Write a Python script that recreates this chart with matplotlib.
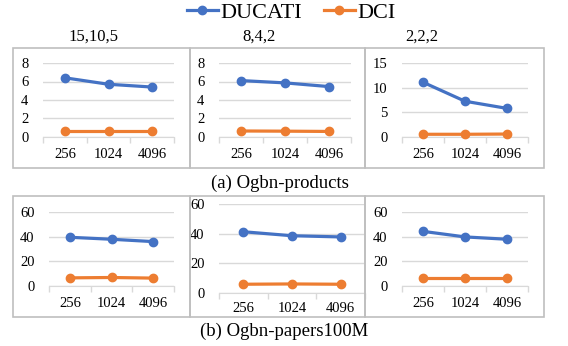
import matplotlib
matplotlib.use('Agg')
import matplotlib.pyplot as plt
from matplotlib.patches import Rectangle
from matplotlib.lines import Line2D

plt.rcParams['font.family'] = ['Liberation Serif', 'DejaVu Serif']

cats = ['256', '1024', '4096']
titles = ['15,10,5', '8,4,2', '2,2,2']

# (a) Ogbn-products
prod_ducati = [[6.4, 5.7, 5.4], [6.1, 5.85, 5.45], [11.1, 7.25, 5.8]]
prod_dci = [[0.65, 0.65, 0.65], [0.65, 0.63, 0.6], [0.55, 0.55, 0.6]]
prod_ylim = [8, 8, 15]
prod_yticks = [[0, 2, 4, 6, 8], [0, 2, 4, 6, 8], [0, 5, 10, 15]]

# (b) Ogbn-papers100M
pap_ducati = [[39.5, 37.9, 36.0], [41.3, 38.6, 37.8], [44.3, 39.8, 37.9]]
pap_dci = [[6.6, 6.9, 6.4], [5.9, 6.1, 5.9], [6.5, 6.5, 6.5]]
pap_ylim = [60, 60, 60]
pap_yticks = [[0, 20, 40, 60]] * 3

BLUE = '#4472C4'
ORANGE = '#ED7D31'
W, H = 568, 346

fig = plt.figure(figsize=(W / 100, H / 100), dpi=100)


def px_axes(x0, y0, x1, y1):
    return fig.add_axes([x0 / W, 1 - y1 / H, (x1 - x0) / W, (y1 - y0) / H])


def box(x0, y0, x1, y1):
    fig.add_artist(Rectangle((x0 / W, 1 - y1 / H), (x1 - x0) / W, (y1 - y0) / H,
                             transform=fig.transFigure, fill=False,
                             edgecolor='#BFBFBF', lw=1.2))


def panel(ax, duc, dci, ymax, yticks, xpad):
    x = range(len(cats))
    ax.plot(x, duc, color=BLUE, lw=2.3, marker='o', ms=6, clip_on=False, zorder=3)
    ax.plot(x, dci, color=ORANGE, lw=2.3, marker='o', ms=6, clip_on=False, zorder=3)
    ax.set_xlim(-0.5, 2.5)
    ax.set_ylim(0, ymax)
    ax.set_yticks(yticks)
    ax.set_xticks(list(x))
    ax.set_xticklabels(cats)
    ax.set_xticks([-0.5, 0.5, 1.5, 2.5], minor=True)
    ax.tick_params(axis='x', which='major', length=0, pad=xpad, labelsize=10.5)
    ax.tick_params(axis='x', which='minor', length=4, color='#D9D9D9', width=1)
    ax.tick_params(axis='y', length=0, pad=10.5, labelsize=10.5)
    ax.yaxis.grid(True, color='#D9D9D9', lw=1)
    ax.set_axisbelow(True)
    for s in ['top', 'right', 'left']:
        ax.spines[s].set_visible(False)
    ax.spines['bottom'].set_color('#D9D9D9')
    ax.patch.set_alpha(0)


# boxes
box_x = [(13, 190), (190, 365), (365, 544)]
for bx0, bx1 in box_x:
    box(bx0, 48, bx1, 168)
    box(bx0, 196, bx1, 317)

top_pos = [(43, 63, 174, 137), (219, 63, 351, 137), (402, 63, 528, 137)]
bot_pos = [(49, 212, 174, 286), (219, 204, 365, 293), (402, 212, 528, 286)]

for i in range(3):
    ax = px_axes(*top_pos[i])
    panel(ax, prod_ducati[i], prod_dci[i], prod_ylim[i], prod_yticks[i], 8)
for i in range(3):
    ax = px_axes(*bot_pos[i])
    panel(ax, pap_ducati[i], pap_dci[i], pap_ylim[i], pap_yticks[i], 8 if i != 1 else 6.5)

title_xy = [(93, 37), (259, 37), (422, 37)]
for t, (tx, ty) in zip(titles, title_xy):
    fig.text(tx / W, 1 - ty / H, t, ha='center', va='center', fontsize=12)

fig.text(280 / W, 1 - 183 / H, '(a) Ogbn-products', ha='center', va='center', fontsize=13.5)
fig.text(284 / W, 1 - 331 / H, '(b) Ogbn-papers100M', ha='center', va='center', fontsize=13.5)

handles = [Line2D([], [], color=BLUE, lw=2.3, marker='o', ms=6),
           Line2D([], [], color=ORANGE, lw=2.3, marker='o', ms=6)]
fig.legend(handles, ['DUCATI', 'DCI'], loc='center', bbox_to_anchor=(291 / W, 1 - 13 / H),
           ncol=2, frameon=False, fontsize=16, handlelength=1.4, handletextpad=0.1,
           columnspacing=1.0, borderpad=0)

fig.savefig('out.png', dpi=100)
